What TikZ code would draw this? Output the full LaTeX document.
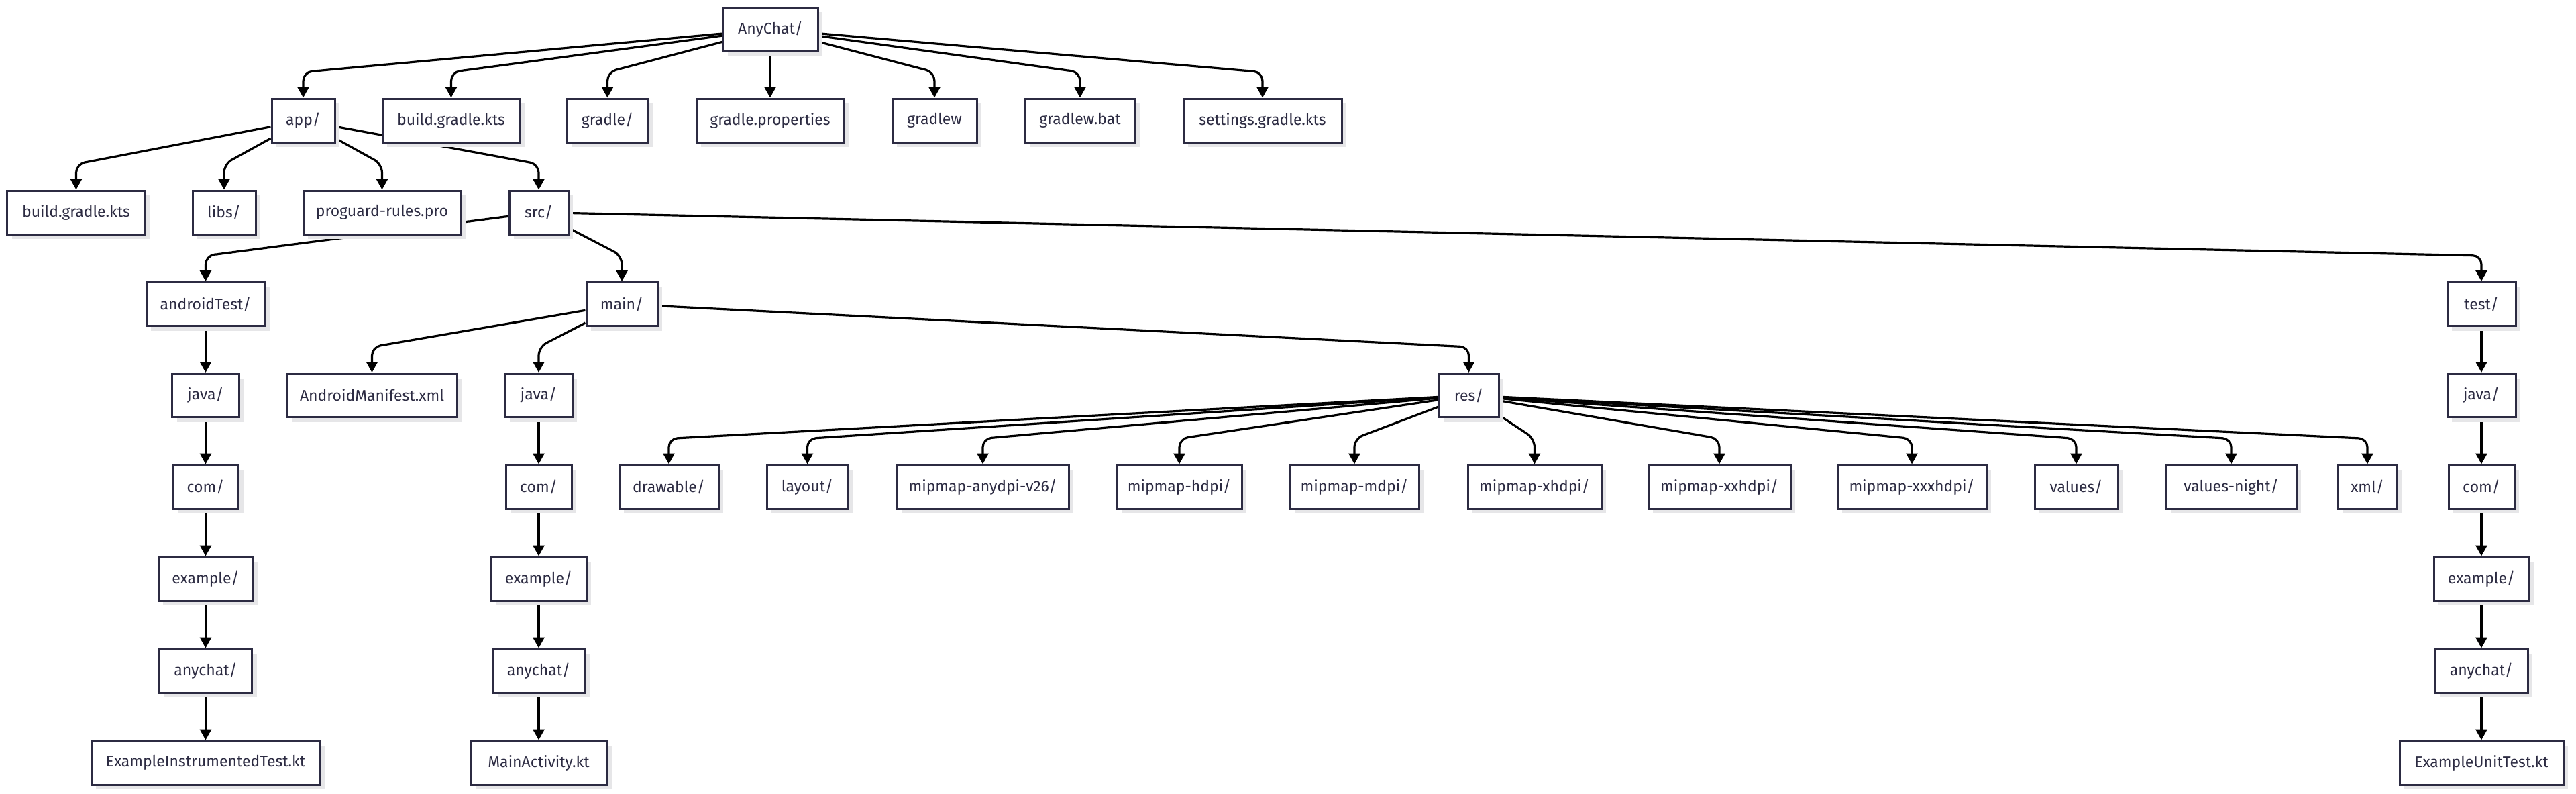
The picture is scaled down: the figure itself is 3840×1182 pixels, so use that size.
\documentclass[tikz,border=0pt]{standalone}
\usepackage{fontspec}
\setmainfont{Fira Sans}
\usetikzlibrary{arrows.meta,shadows,backgrounds,calc}
\definecolor{boxborder}{HTML}{2C2B42}
\definecolor{boxtext}{HTML}{2C2B42}
\definecolor{shadowc}{HTML}{E6E6E8}
\definecolor{edgec}{HTML}{000000}
\tikzset{
  box/.style={draw=boxborder, line width=3bp, fill=white, text=boxtext,
    minimum height=65bp, inner sep=0pt, rectangle,
    font=\fontsize{23bp}{27bp}\selectfont,
    drop shadow={shadow xshift=7bp, shadow yshift=-7bp, fill=shadowc, opacity=1}},
  link/.style={draw=edgec, line width=3.2bp, rounded corners=13bp,
    -{Triangle[length=16bp,width=17bp]}}
}
\newcommand\tedge[2]{\draw[link] (#1) -- ($(#2.north)+(0,-38)$) -- (#2.north);}
\begin{document}
\begin{tikzpicture}[x=1bp,y=-1bp]
\useasboundingbox (0,0) rectangle (3840,1182);
% row 0
\node[box, minimum width=141bp] (root) at (1148.5,43.5) {AnyChat/};
% row 1
\node[box, minimum width=94bp]  (app)   at (452,179.5) {app/};
\node[box, minimum width=205bp] (bgk)   at (672.5,179.5) {build.gradle.kts};
\node[box, minimum width=121bp] (gradle) at (905.5,179.5) {gradle/};
\node[box, minimum width=220bp] (gprop) at (1148,179.5) {gradle.properties};
\node[box, minimum width=126bp] (gw)    at (1393,179.5) {gradlew};
\node[box, minimum width=164bp] (gwbat) at (1610,179.5) {gradlew.bat};
\node[box, minimum width=236bp] (sgk)   at (1882,179.5) {settings.gradle.kts};
% row 2
\node[box, minimum width=205bp] (abgk)  at (113.5,316.5) {build.gradle.kts};
\node[box, minimum width=94bp]  (libs)  at (334,316.5) {libs/};
\node[box, minimum width=235bp] (prog)  at (569.5,316.5) {proguard-rules.pro};
\node[box, minimum width=88bp]  (src)   at (803,316.5) {src/};
% row 3
\node[box, minimum width=177bp] (atest) at (306.5,453) {androidTest/};
\node[box, minimum width=106bp] (main)  at (927,453) {main/};
\node[box, minimum width=102bp] (test)  at (3699,453) {test/};
% row 4
\node[box, minimum width=100bp] (ajava) at (306.5,589) {java/};
\node[box, minimum width=253bp] (manif) at (554.5,589) {AndroidManifest.xml};
\node[box, minimum width=100bp] (mjava) at (803,589) {java/};
\node[box, minimum width=89bp]  (res)   at (2189.5,589) {res/};
\node[box, minimum width=102bp] (tjava) at (3699,589) {java/};
% row 5
\node[box, minimum width=98bp]  (acom)  at (306.5,725.5) {com/};
\node[box, minimum width=98bp]  (mcom)  at (803,725.5) {com/};
\node[box, minimum width=148bp] (draw)  at (997,725.5) {drawable/};
\node[box, minimum width=121bp] (layout) at (1203.5,725.5) {layout/};
\node[box, minimum width=256bp] (any)   at (1465,725.5) {mipmap-anydpi-v26/};
\node[box, minimum width=186bp] (hdpi)  at (1758,725.5) {mipmap-hdpi/};
\node[box, minimum width=192bp] (mdpi)  at (2019,725.5) {mipmap-mdpi/};
\node[box, minimum width=199bp] (xhdpi) at (2287.5,725.5) {mipmap-xhdpi/};
\node[box, minimum width=212bp] (xxhdpi) at (2563,725.5) {mipmap-xxhdpi/};
\node[box, minimum width=222bp] (xxxhdpi) at (2850,725.5) {mipmap-xxxhdpi/};
\node[box, minimum width=124bp] (values) at (3095,725.5) {values/};
\node[box, minimum width=194bp] (vnight) at (3326,725.5) {values-night/};
\node[box, minimum width=88bp]  (xml)   at (3529,725.5) {xml/};
\node[box, minimum width=98bp]  (tcom)  at (3699,725.5) {com/};
% row 6
\node[box, minimum width=141bp] (aex)   at (306.5,862.5) {example/};
\node[box, minimum width=142bp] (mex)   at (803,862.5) {example/};
\node[box, minimum width=142bp] (tex)   at (3699,862.5) {example/};
% row 7
\node[box, minimum width=138bp] (aany)  at (306.5,999.5) {anychat/};
\node[box, minimum width=137bp] (many)  at (803,999.5) {anychat/};
\node[box, minimum width=138bp] (tany)  at (3699,999.5) {anychat/};
% row 8
\node[box, minimum width=340bp] (ait)   at (306.5,1136.5) {ExampleInstrumentedTest.kt};
\node[box, minimum width=203bp] (mact)  at (803,1136.5) {MainActivity.kt};
\node[box, minimum width=244bp] (tut)   at (3699,1136.5) {ExampleUnitTest.kt};

\begin{scope}[on background layer]
\fill[white] (0,0) rectangle (3840,1182);
\tedge{root}{app}
\tedge{root}{bgk}
\tedge{root}{gradle}
\tedge{root}{gprop}
\tedge{root}{gw}
\tedge{root}{gwbat}
\tedge{root}{sgk}
\tedge{app}{abgk}
\tedge{app}{libs}
\tedge{app}{prog}
\tedge{app}{src}
\tedge{src}{atest}
\tedge{src}{main}
\tedge{src}{test}
\tedge{atest}{ajava}
\tedge{ajava}{acom}
\tedge{acom}{aex}
\tedge{aex}{aany}
\tedge{aany}{ait}
\tedge{main}{manif}
\tedge{main}{mjava}
\tedge{main}{res}
\tedge{mjava}{mcom}
\tedge{mcom}{mex}
\tedge{mex}{many}
\tedge{many}{mact}
\tedge{res}{draw}
\tedge{res}{layout}
\tedge{res}{any}
\tedge{res}{hdpi}
\tedge{res}{mdpi}
\tedge{res}{xhdpi}
\tedge{res}{xxhdpi}
\tedge{res}{xxxhdpi}
\tedge{res}{values}
\tedge{res}{vnight}
\tedge{res}{xml}
\tedge{test}{tjava}
\tedge{tjava}{tcom}
\tedge{tcom}{tex}
\tedge{tex}{tany}
\tedge{tany}{tut}
\end{scope}
\end{tikzpicture}
\end{document}
